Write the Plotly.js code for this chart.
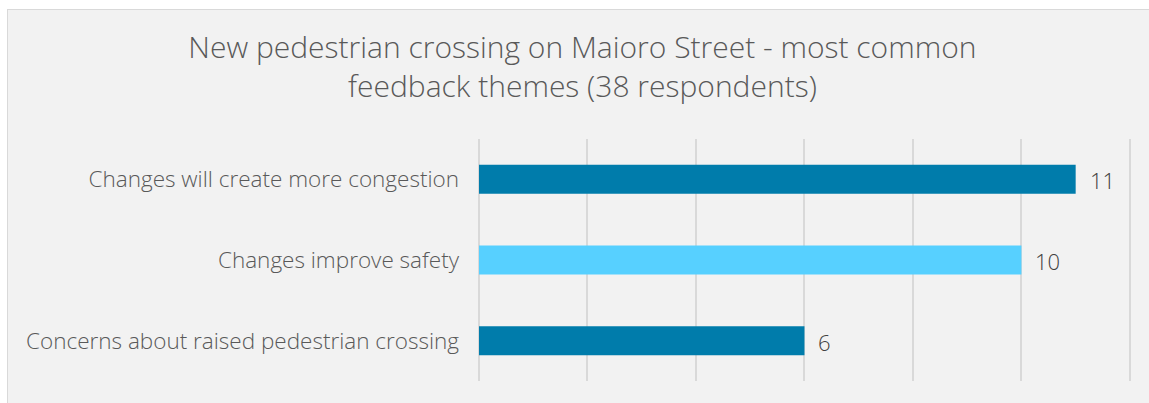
<!DOCTYPE html>
<html>
<head>
<meta charset="utf-8">
<script src="https://cdn.plot.ly/plotly-3.0.1.min.js"></script>
<style>
  html, body { margin: 0; padding: 0; background: #ffffff; width: 1149px; height: 403px; overflow: hidden; }
  #frame { position: absolute; left: 7px; top: 9px; width: 1142px; height: 394px; border-left: 1px solid #d9d9d9; border-top: 1px solid #d9d9d9; background: #f2f2f2; }
  #chart { width: 1142px; height: 394px; }
</style>
</head>
<body>
<div id="frame"><div id="chart"></div></div>
<script>
const categories = [
  "Changes will create more congestion",
  "Changes improve safety",
  "Concerns about raised pedestrian crossing"
];
const values = [11, 10, 6];
const barColors = ["#007CAB", "#57D0FF", "#007CAB"];
const titleText = "New pedestrian crossing on Maioro Street - most common<br>feedback themes (38 respondents)";

const fontFamily = "'Open Sans', Lato, 'Noto Sans', sans-serif";

const trace = {
  type: "bar",
  orientation: "h",
  x: values,
  y: categories,
  marker: { color: barColors },
  hoverinfo: "none",
  width: 0.36
};

const annotations = values.map((v, i) => ({
  x: v, y: categories[i], xref: "x", yref: "y",
  text: String(v), showarrow: false, xanchor: "left", xshift: 12, yshift: -1,
  font: { family: fontFamily, size: 22, color: "#404040", weight: 300 }
}));

const layout = {
  width: 1142, height: 394,
  paper_bgcolor: "#f2f2f2",
  plot_bgcolor: "#f2f2f2",
  margin: { l: 471, r: 19, t: 129, b: 23 },
  title: {
    text: titleText,
    x: 0.503, xanchor: "center",
    y: 0.877, yanchor: "top", yref: "container",
    font: { family: fontFamily, size: 30, color: "#595959", weight: 300 }
  },
  xaxis: {
    range: [0, 12.02], dtick: 2, tick0: 0, showticklabels: false,
    showgrid: true, gridcolor: "#d9d9d9", gridwidth: 2,
    zeroline: true, zerolinecolor: "#d9d9d9", zerolinewidth: 2,
    showline: false, fixedrange: true
  },
  yaxis: {
    autorange: "reversed", showgrid: false, zeroline: false, showline: false,
    ticks: "", ticklabelstandoff: 19,
    tickfont: { family: fontFamily, size: 22.5, color: "#595959", weight: 300 },
    fixedrange: true
  },
  annotations: annotations,
  showlegend: false
};

Plotly.newPlot("chart", [trace], layout, { displayModeBar: false, staticPlot: true });
</script>
</body>
</html>
